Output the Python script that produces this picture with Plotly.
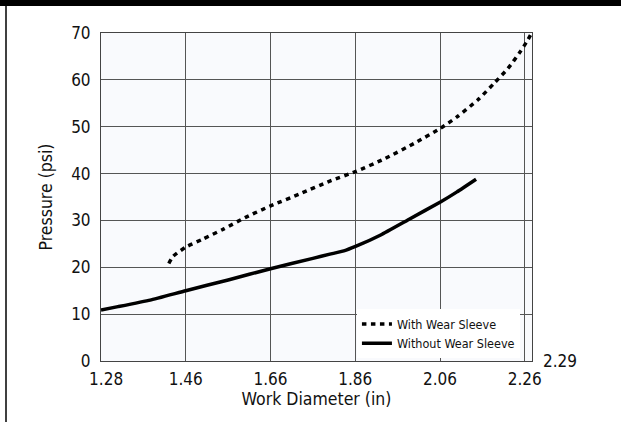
import plotly.graph_objects as go

# with wear sleeve (dotted)
with_x = [1.42, 1.43, 1.46, 1.50, 1.55, 1.60, 1.66, 1.73, 1.80, 1.86, 1.93,
          2.00, 2.06, 2.10, 2.15, 2.19, 2.22, 2.25, 2.267, 2.276]
with_y = [20.8, 22.3, 24.3, 26.0, 28.2, 30.6, 33.1, 35.7, 38.4, 40.4, 43.2,
          46.5, 49.6, 52.1, 55.8, 59.5, 62.4, 66.1, 68.5, 70.0]

# without wear sleeve (solid)
without_x = [1.26, 1.30, 1.376, 1.46, 1.56, 1.66, 1.76, 1.80, 1.833, 1.862,
             1.92, 1.984, 2.062, 2.10, 2.145]
without_y = [10.9, 11.6, 13.0, 15.0, 17.3, 19.7, 21.9, 22.8, 23.5, 24.5,
             26.9, 30.1, 34.0, 36.1, 38.8]

x_grid = [1.46, 1.66, 1.86, 2.06, 2.26]
x_tick_vals = [1.272, 1.46, 1.66, 1.86, 2.06, 2.26]
x_tick_text = ["1.28", "1.46", "1.66", "1.86", "2.06", "2.26"]
y_ticks = [0, 10, 20, 30, 40, 50, 60, 70]

FONT = "DejaVu Sans Condensed, Roboto Condensed, Liberation Sans Narrow, Roboto"

fig = go.Figure()
fig.add_trace(go.Scatter(x=with_x, y=with_y, mode='lines', name='With Wear Sleeve',
                         line=dict(color='black', width=3.5, dash='4.5px,4.5px',
                                   shape='spline', smoothing=0.6)))
fig.add_trace(go.Scatter(x=without_x, y=without_y, mode='lines', name='Without Wear Sleeve',
                         line=dict(color='black', width=3.5, shape='spline', smoothing=0.4)))

fig.update_layout(
    width=621, height=422,
    margin=dict(l=101, r=89, t=33, b=61, autoexpand=False),
    paper_bgcolor='white', plot_bgcolor='#f9fafd',
    font=dict(family=FONT, size=17, color='#111'),
    showlegend=True,
    legend=dict(x=0.972, y=0.008, xanchor='right', yanchor='bottom',
                bgcolor='white', borderwidth=0, font=dict(size=12.5),
                tracegroupgap=0),
    shapes=[
        dict(type='rect', xref='paper', yref='paper', x0=-0.3, x1=1.3,
             y0=1 + 27 / 328, y1=1.2, fillcolor='black', line_width=0),
        dict(type='line', xref='paper', yref='paper', x0=-95 / 431, x1=-95 / 431,
             y0=-0.25, y1=1.1, line=dict(color='black', width=1.5)),
    ],
    annotations=[
        dict(text='2.29', x=2.277, y=0, xref='x', yref='paper', xanchor='left',
             yanchor='middle', xshift=9, showarrow=False, font=dict(size=17)),
    ],
)

fig.update_xaxes(range=[1.26, 2.277], tickvals=x_tick_vals, ticktext=x_tick_text,
                 showgrid=False, zeroline=False, showline=True, mirror=True,
                 linecolor='#444', linewidth=1, ticks='', ticklabelstandoff=3,
                 automargin=False,
                 minor=dict(tickvals=x_grid, showgrid=True, gridcolor='#555', gridwidth=1),
                 title=dict(text='Work Diameter (in)', standoff=4,
                            font=dict(family=FONT, size=17.5)))
fig.update_yaxes(range=[0, 70], tickvals=y_ticks, showgrid=True, gridcolor='#555',
                 gridwidth=1, zeroline=False, showline=True, mirror=True,
                 linecolor='#444', linewidth=1, ticks='', ticklabelstandoff=6,
                 automargin=False,
                 title=dict(text='Pressure (psi)', standoff=14,
                            font=dict(family=FONT, size=17.5)))

fig.write_html("out.html", config={'displayModeBar': False},
               post_script="document.body.style.margin='0';")
